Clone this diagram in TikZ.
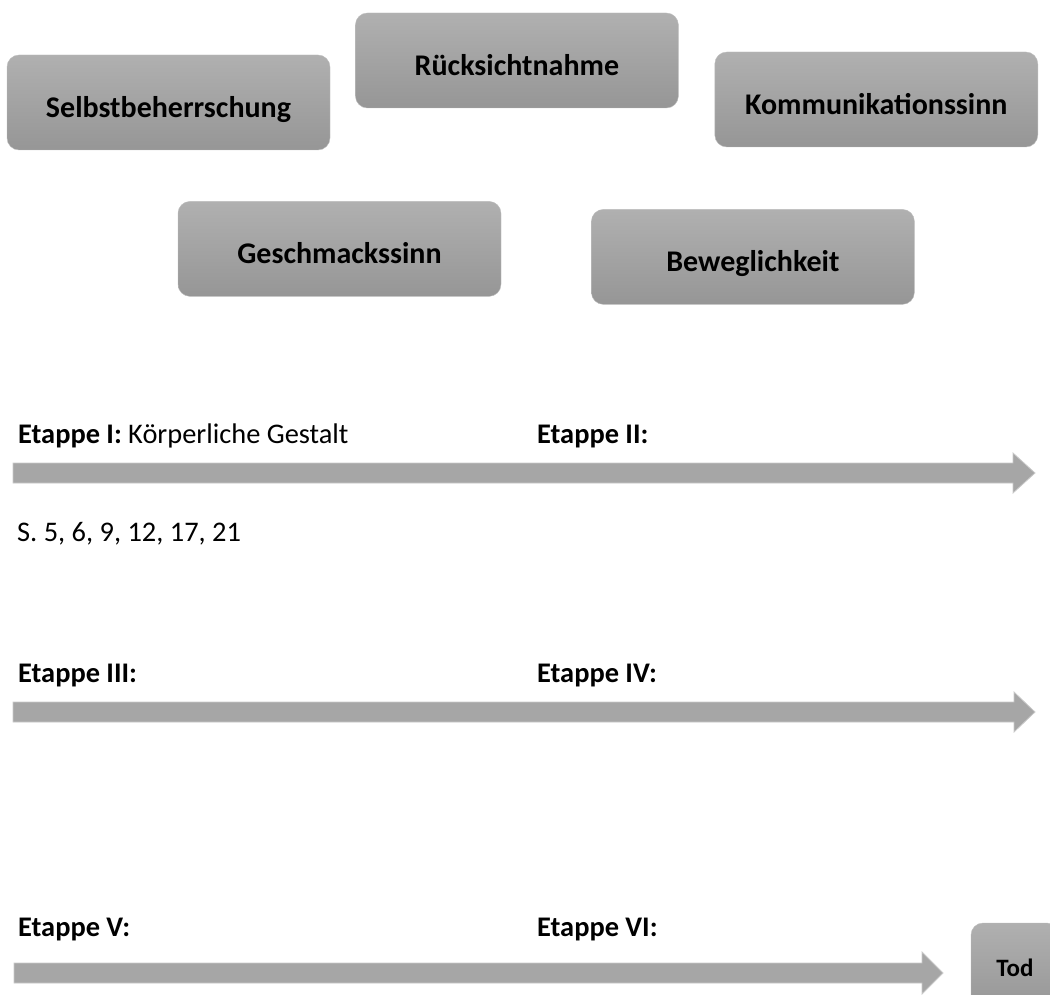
\documentclass[tikz,border=0pt]{standalone}
\usepackage{fontspec}
\setmainfont{Carlito}
\usetikzlibrary{positioning}
\definecolor{boxoben}{HTML}{B0B0B0}
\definecolor{boxunten}{HTML}{969696}
\definecolor{boxrand}{HTML}{BDBDBD}
\definecolor{pfeilgrau}{HTML}{A6A6A6}
\definecolor{pfeilrand}{HTML}{C9C9C9}

\begin{document}
\begin{tikzpicture}[x=1pt,y=-1pt,
   feld/.style={rectangle,rounded corners=12pt,draw=boxrand,top color=boxoben,bottom color=boxunten,
                minimum width=323pt,minimum height=95pt,inner sep=0pt,
                text height=30pt,text depth=0pt,
                font=\fontsize{30}{36}\selectfont\bfseries},
   etappe/.style={anchor=base west,inner sep=0pt,font=\fontsize{28.4}{34}\selectfont},
   pfeil/.style={fill=pfeilgrau,draw=pfeilrand,line width=0.8pt}]
   \useasboundingbox (0,0) rectangle (1050,995);
   % Eigenschaften
   \node[feld] (selbst) at (168.5,102.5) {Selbstbeherrschung};
   \node[feld] (ruecksicht) [right=25pt of selbst, yshift=42pt] {Rücksichtnahme};
   \node[feld] (kommunikation) [right=36pt of ruecksicht, yshift=-39pt] {Kommunikationssinn};
   \node[feld] (geschmack) [below=51pt of selbst, xshift=171pt] {Geschmackssinn};
   \node[feld] (beweglich) [right=90pt of geschmack, yshift=-8pt] {Beweglichkeit};
   % Zeitleiste
   \node[etappe] (et_1) at (18,443) {\textbf{Etappe I:} Körperliche Gestalt};
   \node[etappe] (et_2) at (537,443) {\textbf{Etappe II:}};
   \filldraw[pfeil] (13,463) -- (1013,463) -- (1013,453) -- (1035,473)
                    -- (1013,493) -- (1013,483) -- (13,483) -- cycle;
   \node[etappe] (seiten) at (17,541) {S. 5, 6, 9, 12, 17, 21};
   \node[etappe] (et_3) at (18,682) {\textbf{Etappe III:}};
   \node[etappe] (et_4) at (537,682) {\textbf{Etappe IV:}};
   \filldraw[pfeil] (13,702) -- (1014,702) -- (1014,692) -- (1035,712)
                    -- (1014,732) -- (1014,722) -- (13,722) -- cycle;
   \node[etappe] (et_5) at (18,936) {\textbf{Etappe V:}};
   \node[etappe] (et_6) at (537,936) {\textbf{Etappe VI:}};
   \filldraw[pfeil] (14,963) -- (922,963) -- (922,952) -- (943,973)
                    -- (922,994) -- (922,983) -- (14,983) -- cycle;
   \node[feld,minimum width=88pt,minimum height=88pt,text height=18pt,
         font=\fontsize{25}{30}\selectfont\bfseries]
        (tod) at (1015,967) {Tod};
\end{tikzpicture}
\end{document}
